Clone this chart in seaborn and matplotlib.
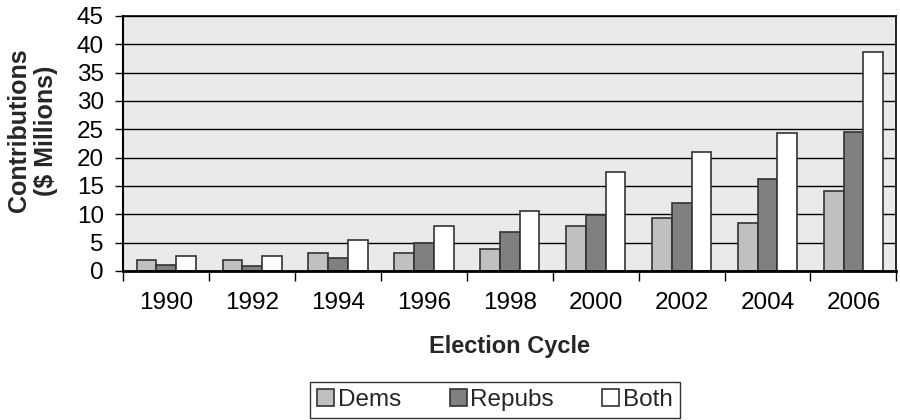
import pandas as pd
import matplotlib
matplotlib.use("Agg")
import matplotlib.pyplot as plt
import seaborn as sns

# =========================
# DATA
# =========================
years = ["1990", "1992", "1994", "1996", "1998", "2000", "2002", "2004", "2006"]
dems = [1.9, 2.0, 3.1, 3.2, 3.8, 7.9, 9.4, 8.4, 14.1]
repubs = [1.0, 0.8, 2.3, 5.0, 6.8, 9.8, 11.9, 16.2, 24.6]
both = [2.6, 2.7, 5.5, 8.0, 10.5, 17.5, 21.0, 24.4, 38.6]
series = ["Dems", "Repubs", "Both"]
colors = ["#C0C0C0", "#808080", "#FFFFFF"]
y_ticks = [0, 5, 10, 15, 20, 25, 30, 35, 40, 45]

df = pd.DataFrame({"Year": years * 3,
                   "Party": [s for s in series for _ in years],
                   "Value": dems + repubs + both})

# =========================
# STYLE
# =========================
sns.set_theme(style="white")
plt.rcParams['font.family'] = ['Liberation Sans', 'DejaVu Sans']

fig = plt.figure(figsize=(9, 4.2), dpi=100)
ax = fig.add_axes([0.137, 0.355, 0.859, 0.607])
ax.set_facecolor("#EAEAEA")

sns.barplot(data=df, x="Year", y="Value", hue="Party", hue_order=series,
            palette=colors, width=0.69, gap=0, edgecolor="#333333",
            linewidth=1.2, saturation=1, ax=ax, legend=True)

ax.set_ylim(0, 45)
ax.set_xlim(-0.5, len(years) - 0.5)
ax.set_yticks(y_ticks)
ax.yaxis.grid(True, color="black", linewidth=1.0)
ax.set_axisbelow(True)

for s in ax.spines.values():
    s.set_color("black")
    s.set_linewidth(1.2)
ax.spines["left"].set_linewidth(1.5)
ax.spines["bottom"].set_linewidth(2)

ax.tick_params(axis="y", left=True, length=6, width=1, pad=8,
               labelsize=17.5, colors="black")
ax.tick_params(axis="x", which="major", bottom=False, length=0, pad=15,
               labelsize=17.5, labelcolor="black")
ax.set_xticks([i - 0.5 for i in range(len(years) + 1)], minor=True)
ax.tick_params(axis="x", which="minor", bottom=True, length=7, width=1,
               color="black", direction="out")

ax.set_xlabel("Election Cycle", fontsize=17, fontweight="bold", labelpad=15)
ax.set_ylabel("Contributions\n($ Millions)", fontsize=18, fontweight="bold",
              labelpad=14, linespacing=1.15)
ax.yaxis.set_label_coords(-0.085, 0.55)

handles, labels = ax.get_legend_handles_labels()
ax.get_legend().remove()
leg = fig.legend(handles, labels, loc="center", bbox_to_anchor=(0.55, 0.048),
                 ncol=3, fontsize=17.5, frameon=True, fancybox=False,
                 edgecolor="black", handlelength=0.7, handleheight=0.7,
                 handletextpad=0.15, columnspacing=2.0, borderpad=0.3)
leg.get_frame().set_linewidth(1.0)

fig.savefig("out.png", dpi=100)
